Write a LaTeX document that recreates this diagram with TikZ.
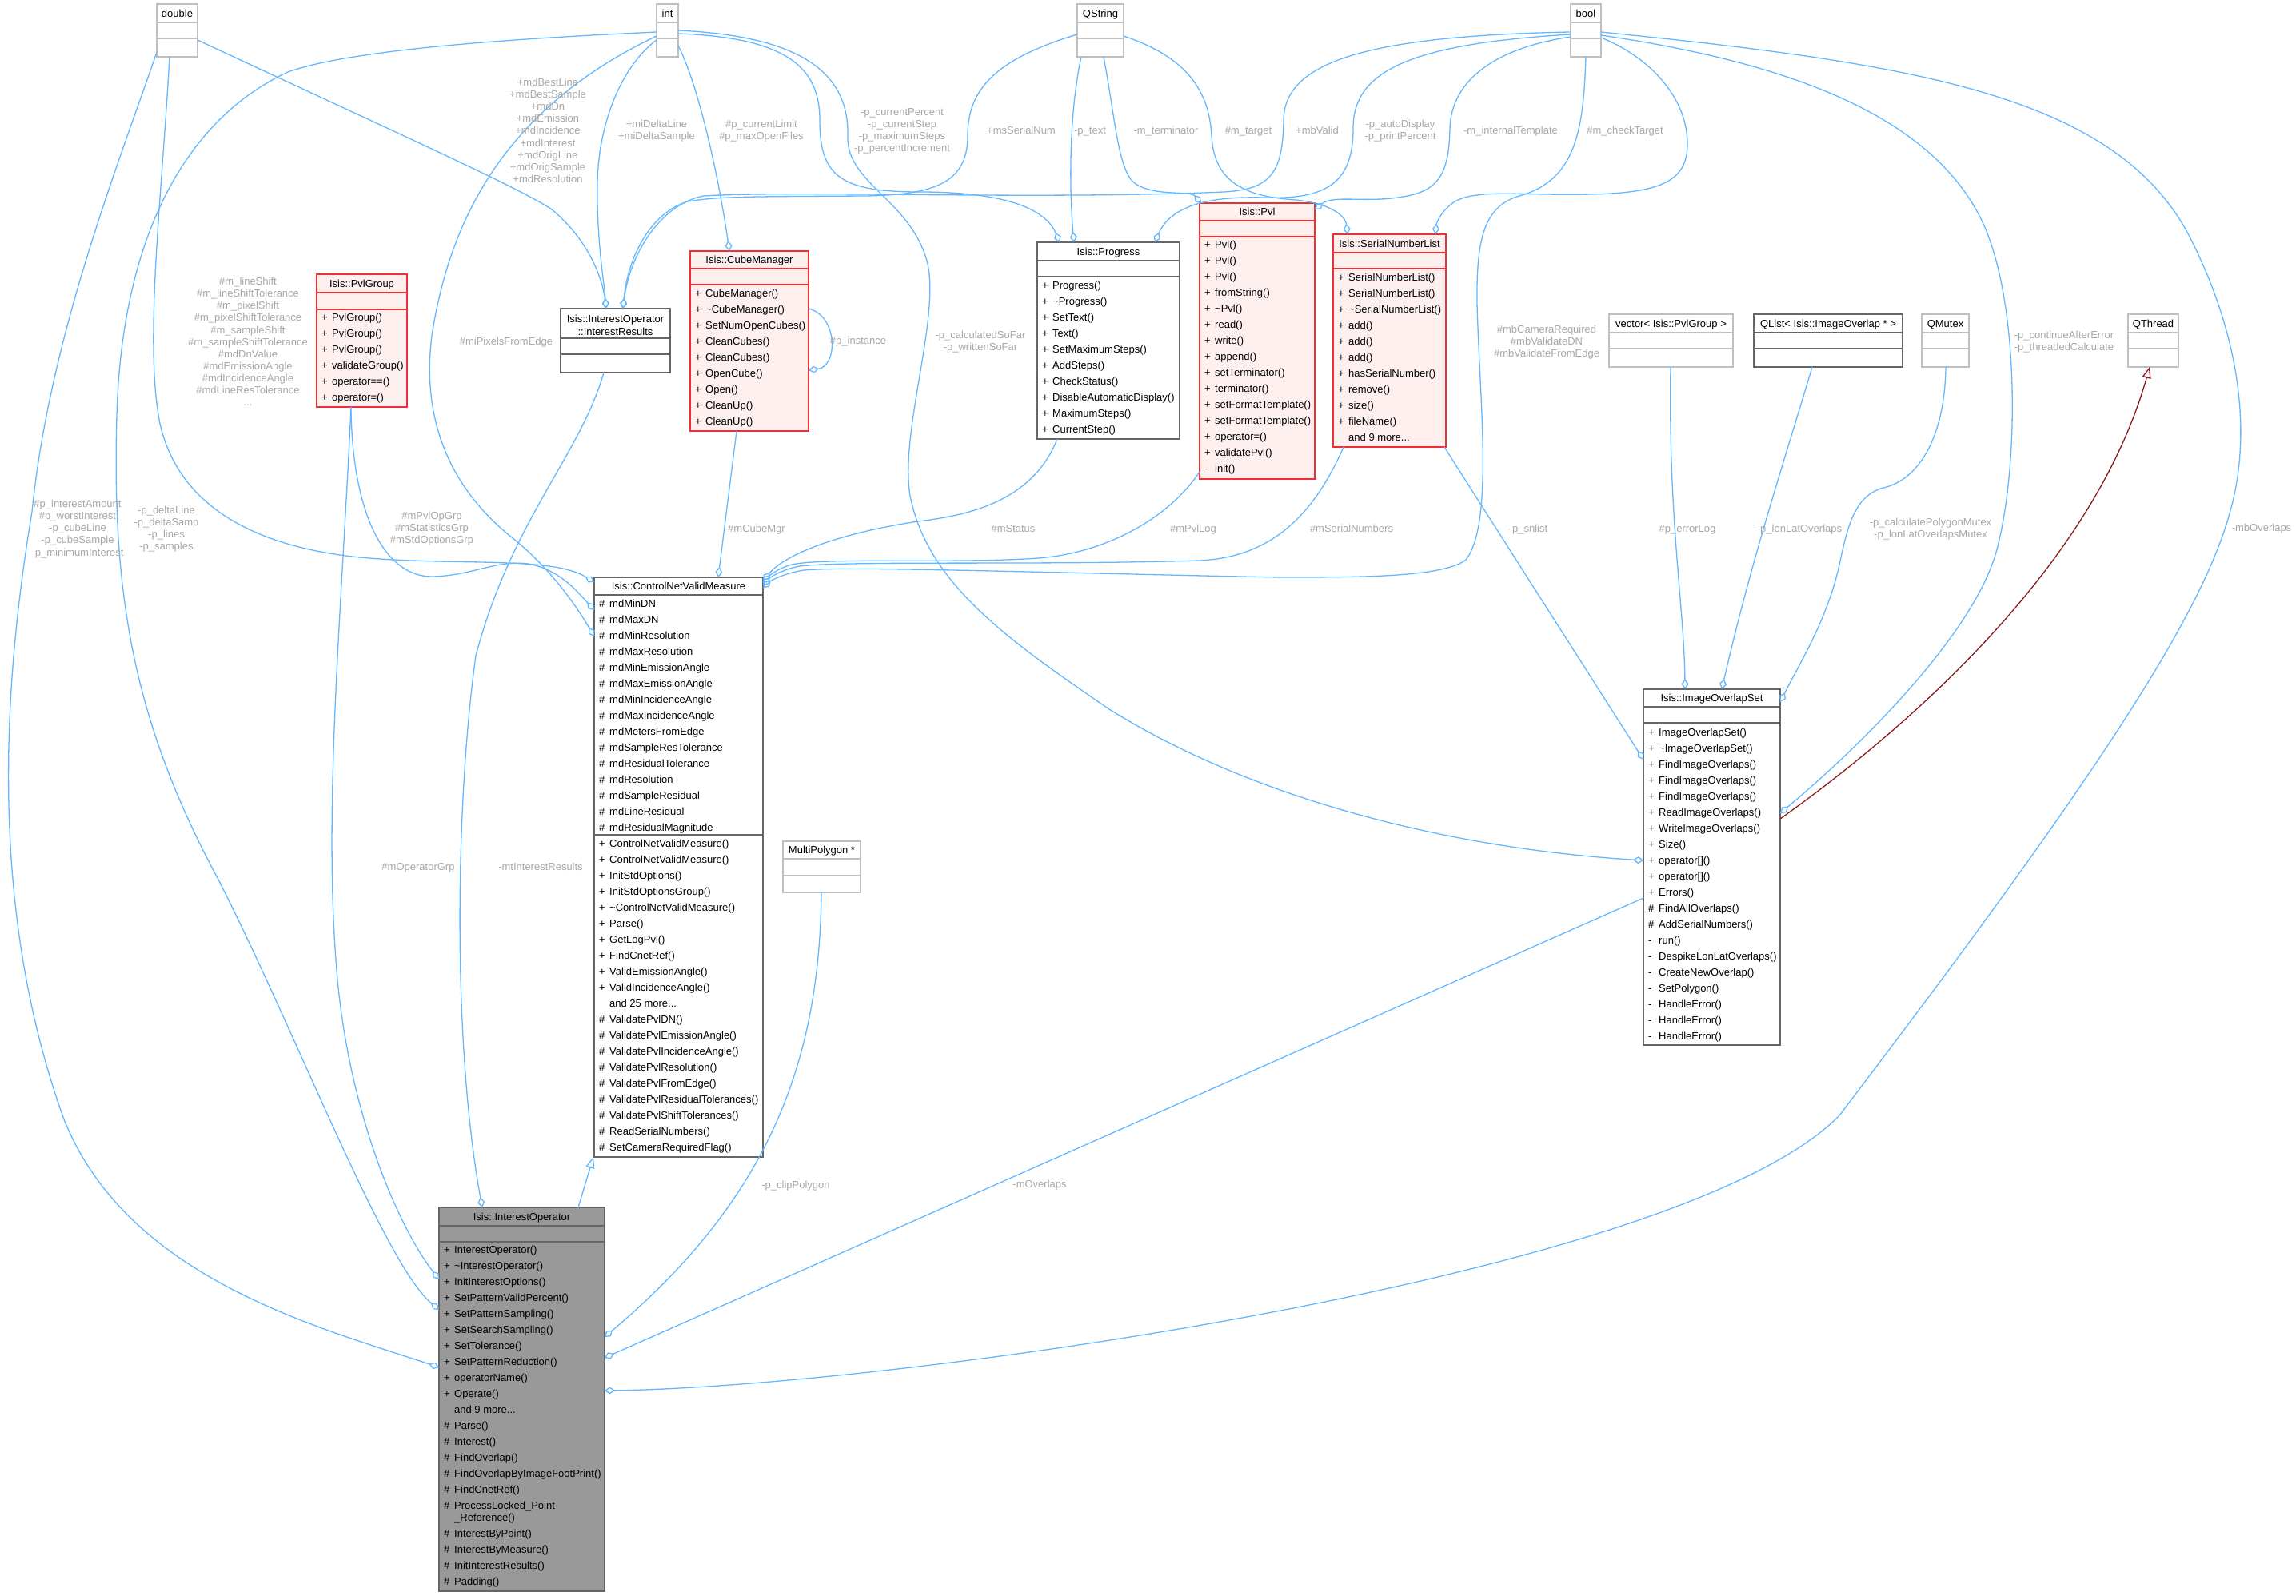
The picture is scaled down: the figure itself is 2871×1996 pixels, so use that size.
\documentclass[tikz,border=0pt]{standalone}
\usepackage{fontspec}
\setmainfont{Liberation Sans}
\usetikzlibrary{arrows.meta}
\definecolor{eblue}{HTML}{63B8FF}
\definecolor{ired}{HTML}{8B1A1A}
\definecolor{lgray}{HTML}{A8A8A8}
\definecolor{gborder}{HTML}{BFBFBF}
\definecolor{dborder}{HTML}{666666}
\definecolor{rborder}{HTML}{F03030}
\definecolor{rfill}{HTML}{FFF0F0}
\definecolor{iofill}{HTML}{999999}
\newcommand\fsz{\fontsize{13}{15.1}\selectfont}
\newcommand\dts{\mbox{...}}
\newcounter{lc}
\tikzset{
 boxbase/.style={inner sep=0pt, outer sep=0pt, line width=1.6pt},
 gbox/.style={boxbase, draw=gborder, fill=white},
 dbox/.style={boxbase, draw=dborder, fill=white},
 rbox/.style={boxbase, draw=rborder, fill=rfill},
 iobox/.style={boxbase, draw=dborder, fill=iofill},
 gdiv/.style={draw=gborder, line width=1.6pt},
 ddiv/.style={draw=dborder, line width=1.6pt},
 rdiv/.style={draw=rborder, line width=1.6pt},
 mtext/.style={inner sep=0pt, font=\fsz},
 ttext/.style={inner sep=0pt, font=\fsz},
 lbl/.style={inner sep=0pt, font=\fsz, text=lgray},
 agg/.style={draw=eblue, line width=1.3pt, -{Diamond[open, length=13pt, width=9pt]}},
 inhb/.style={draw=eblue, line width=1.3pt, -{Triangle[open, length=14pt, width=11pt]}},
 inhr/.style={draw=ired, line width=1.3pt, -{Triangle[open, length=14pt, width=11pt]}},
}
% name, box style, divider style, x0, y0, x1, y1, divider ys
\newcommand\cls[8]{%
  \node[#2, minimum width={#6-#4}, minimum height={#7-#5}, anchor=north west] (#1) at (#4,#5) {};
  \foreach \dv in {#8} {\draw[#3] (#4,\dv) -- (#6,\dv);}}
\newcommand\ttl[4]{\node[ttext, anchor=base] (#1-title) at ({#2},{#3+4.6}) {#4};}
% prefix, x0, first row centre, list sym/text
\newcommand\rows[4]{%
  \foreach \ms/\mt [count=\rr from 0] in {#4} {%
    \node[mtext, anchor=base west] (#1-s\rr) at ({#2+6},{#3+20*\rr+4.6}) {\ms};
    \node[mtext, anchor=base west] (#1-t\rr) at ({#2+19},{#3+20*\rr+4.6}) {\mt};
  }}
\newcommand\lab[3]{%
  \foreach \lnx [count=\jj from 0] in {#3} {%
    \stepcounter{lc}%
    \node[lbl, anchor=base] (lab\arabic{lc}) at ({#1},{#2+15.1*\jj+4.6}) {\lnx};
  }}
\begin{document}
\begin{tikzpicture}[x=1pt,y=-1pt]
\path[use as bounding box, fill=white] (0,0) rectangle (2871,1996);

% ---------------- boxes
\cls{dbl}{gbox}{gdiv}{196}{5}{247}{71}{28,48}
\cls{int}{gbox}{gdiv}{821}{5}{848}{71}{28,48}
\cls{qstr}{gbox}{gdiv}{1347}{5}{1405}{71}{28,48}
\cls{bool}{gbox}{gdiv}{1964}{5}{2002}{71}{28,48}
\cls{vec}{gbox}{gdiv}{2012}{393}{2167}{459}{416,436}
\cls{qlist}{dbox}{ddiv}{2193}{393}{2379}{459}{416,436}
\cls{qmutex}{gbox}{gdiv}{2403}{393}{2462}{459}{416,436}
\cls{qthread}{gbox}{gdiv}{2661}{393}{2724}{459}{416,436}
\cls{mpoly}{gbox}{gdiv}{979}{1052}{1076}{1116}{1074,1095}
\cls{pvlg}{rbox}{rdiv}{396}{343}{509}{509}{366,387}
\cls{ir}{dbox}{ddiv}{701}{386}{838}{466}{423,443}
\cls{cm}{rbox}{rdiv}{863}{314}{1011}{539}{336,356}
\cls{prog}{dbox}{ddiv}{1297}{303}{1475}{549}{326,346}
\cls{pvl}{rbox}{rdiv}{1500}{254}{1644}{599}{276,296}
\cls{snl}{rbox}{rdiv}{1667}{293}{1808}{559}{316,336}
\cls{cnvm}{dbox}{ddiv}{743}{722}{954}{1447}{744,1044}
\cls{io}{iobox}{ddiv}{549}{1510}{756}{1990}{1533,1553}
\cls{ios}{dbox}{ddiv}{2055}{862}{2226}{1307}{884,904}

% ---------------- connectors
% double
\draw[agg] (dbl.west |- 0,65) .. controls (150,200) and (62,420) .. (40,640) .. controls (0,880) and (-10,1150) .. (80,1400) .. controls (160,1600) and (400,1660) .. (io.west |- 0,1710);
\draw[agg] (dbl.south -| 212,0) .. controls (202,250) and (180,430) .. (200,530) .. controls (225,640) and (330,685) .. (450,697) .. controls (570,708) and (690,695) .. (cnvm.west |- 0,728);
\draw[agg] (dbl.east |- 0,50) .. controls (500,168) and (650,235) .. (690,262) .. controls (730,295) and (752,340) .. (ir.north -| 758,0);
% int
\draw[agg] (int.west |- 0,40) .. controls (600,50) and (430,65) .. (360,90) .. controls (230,150) and (152,300) .. (146,520) .. controls (140,740) and (165,900) .. (273,1100) .. controls (370,1290) and (480,1580) .. (io.west |- 0,1638);
\draw[agg] (int.west |- 0,45) .. controls (620,140) and (560,290) .. (540,420) .. controls (525,540) and (575,620) .. (640,672) .. controls (690,712) and (722,760) .. (cnvm.west |- 0,796);
\draw[agg] (int.west |- 0,50) .. controls (780,80) and (748,150) .. (747,230) .. controls (746,300) and (755,350) .. (ir.north -| 758,0);
\draw[agg] (int.east |- 0,57) .. controls (875,110) and (900,230) .. (cm.north -| 912,0);
\draw[agg] (int.east |- 0,42) .. controls (985,47) and (1025,85) .. (1025,150) .. controls (1025,220) and (1050,240) .. (1150,240) .. controls (1240,240) and (1305,255) .. (prog.north -| 1325,0);
\draw[agg] (int.east |- 0,38) .. controls (1000,45) and (1062,90) .. (1060,170) .. controls (1058,230) and (1140,250) .. (1160,330) .. controls (1175,400) and (1125,540) .. (1138,620) .. controls (1160,730) and (1260,800) .. (1387,887) .. controls (1560,995) and (1800,1060) .. (ios.west |- 0,1076);
% QString
\draw[agg] (qstr.west |- 0,43) .. controls (1240,75) and (1210,115) .. (1210,170) .. controls (1210,228) and (1170,244) .. (1080,245) .. controls (950,246) and (900,245) .. (860,252) .. controls (815,265) and (785,320) .. (ir.north -| 779,0);
\draw[agg] (qstr.south -| 1352,0) .. controls (1335,150) and (1338,250) .. (prog.north -| 1343,0);
\draw[agg] (qstr.south -| 1380,0) .. controls (1395,150) and (1398,215) .. (1420,230) .. controls (1445,246) and (1488,238) .. (pvl.north -| 1502,0);
\draw[agg] (qstr.east |- 0,45) .. controls (1480,70) and (1512,110) .. (1515,170) .. controls (1518,230) and (1560,246) .. (1620,250) .. controls (1660,254) and (1682,268) .. (snl.north -| 1685,0);
% bool
\draw[agg] (bool.west |- 0,40) .. controls (1700,45) and (1606,80) .. (1605,150) .. controls (1604,215) and (1590,237) .. (1530,240) .. controls (1300,250) and (1000,238) .. (880,245) .. controls (825,255) and (787,320) .. (ir.north -| 779,0);
\draw[agg] (bool.west |- 0,43) .. controls (1760,55) and (1692,90) .. (1692,160) .. controls (1692,228) and (1660,250) .. (1580,247) .. controls (1500,245) and (1462,262) .. (prog.north -| 1444,0);
\draw[agg] (bool.west |- 0,46) .. controls (1870,60) and (1815,100) .. (1813,160) .. controls (1812,215) and (1800,237) .. (1760,245) .. controls (1710,255) and (1668,243) .. (pvl.east |- 0,262);
\draw[agg] (bool.east |- 0,47) .. controls (2060,70) and (2110,120) .. (2110,180) .. controls (2110,225) and (2080,241) .. (1990,243) .. controls (1900,245) and (1840,235) .. (1815,255) .. controls (1800,267) and (1796,280) .. (snl.north -| 1795,0);
\draw[agg] (bool.south -| 1983,0) .. controls (1980,160) and (1972,225) .. (1900,245) .. controls (1855,258) and (1846,300) .. (1847,380) .. controls (1850,500) and (1868,655) .. (1833,700) .. controls (1805,722) and (1700,722) .. (1600,722) .. controls (1300,716) and (1060,708) .. (1005,713) .. controls (980,717) and (964,726) .. (cnvm.east |- 0,735);
\draw[agg] (bool.east |- 0,44) .. controls (2250,80) and (2420,150) .. (2480,280) .. controls (2525,380) and (2525,580) .. (2497,687) .. controls (2470,790) and (2330,930) .. (ios.east |- 0,1017);
\draw[agg] (bool.east |- 0,40) .. controls (2400,80) and (2650,120) .. (2740,300) .. controls (2810,440) and (2812,560) .. (2788,642) .. controls (2750,780) and (2600,1000) .. (2300,1395) .. controls (2100,1600) and (1100,1735) .. (io.east |- 0,1739);
% members of ControlNetValidMeasure
\draw[agg] (pvlg.south -| 439,0) .. controls (440,640) and (480,722) .. (541,721) .. controls (590,720) and (620,700) .. (660,705) .. controls (700,712) and (722,740) .. (cnvm.west |- 0,763);
\draw[agg] (cm.south -| 921,0) -- (cnvm.north -| 898,0);
\draw[agg] (prog.south -| 1322,0) .. controls (1290,630) and (1205,645) .. (1148,652) .. controls (1060,665) and (985,690) .. (cnvm.east |- 0,726);
\draw[agg] (pvl.west |- 0,590) .. controls (1460,650) and (1380,692) .. (1298,698) .. controls (1200,705) and (1030,697) .. (990,706) .. controls (972,711) and (962,720) .. (cnvm.east |- 0,729);
\draw[agg] (snl.south -| 1680,0) .. controls (1640,650) and (1585,697) .. (1500,701) .. controls (1300,707) and (1060,701) .. (1000,708) .. controls (978,712) and (963,722) .. (cnvm.east |- 0,732);
\draw[agg] (cm.east |- 0,386) .. controls (1048,395) and (1048,458) .. (cm.east |- 0,463);
% members of InterestOperator
\draw[agg] (pvlg.south -| 439,0) .. controls (428,750) and (405,1000) .. (420,1200) .. controls (432,1380) and (495,1530) .. (io.west |- 0,1600);
\draw[agg] (ir.south -| 755,0) .. controls (725,570) and (640,650) .. (595,820) .. controls (570,1000) and (565,1300) .. (io.north -| 603,0);
\draw[inhb] (io.north -| 723,0) -- (cnvm.south -| 742,0);
\draw[agg] (mpoly.south -| 1027,0) .. controls (1025,1330) and (960,1500) .. (io.east |- 0,1672);
\draw[agg] (ios.west |- 0,1123) -- (io.east |- 0,1698);
% members of ImageOverlapSet
\draw[agg] (snl.south -| 1806,0) -- (ios.west |- 0,950);
\draw[agg] (vec.south -| 2089,0) .. controls (2086,650) and (2106,760) .. (ios.north -| 2107,0);
\draw[agg] (qlist.south -| 2266,0) .. controls (2230,580) and (2190,700) .. (ios.north -| 2153,0);
\draw[agg] (qmutex.south -| 2433,0) .. controls (2432,545) and (2400,600) .. (2355,610) .. controls (2318,620) and (2310,660) .. (2300,706) .. controls (2285,775) and (2250,830) .. (ios.east |- 0,878);
\draw[inhr] (ios.east |- 0,1024) .. controls (2400,900) and (2620,700) .. (qthread.south -| 2688,0);

% ---------------- titles
\ttl{dbl}{221.5}{16.5}{double}
\ttl{int}{834.5}{16.5}{int}
\ttl{qstr}{1376}{16.5}{QString}
\ttl{bool}{1983}{16.5}{bool}
\ttl{vec}{2089.5}{404.5}{vector< Isis::PvlGroup >}
\ttl{qlist}{2286}{404.5}{QList< Isis::ImageOverlap * >}
\ttl{qmutex}{2432.5}{404.5}{QMutex}
\ttl{qthread}{2692.5}{404.5}{QThread}
\ttl{mpoly}{1027.5}{1063}{MultiPolygon *}
\ttl{pvlg}{452.5}{354.5}{Isis::PvlGroup}
\node[ttext, anchor=base] (ir-title) at (769.5,403.6) {Isis::InterestOperator};
\node[ttext, anchor=base] (ir-title2) at (769.5,419.6) {::InterestResults};
\ttl{cm}{937}{325}{Isis::CubeManager}
\ttl{prog}{1386}{314.5}{Isis::Progress}
\ttl{pvl}{1572}{265}{Isis::Pvl}
\ttl{snl}{1737.5}{304.5}{Isis::SerialNumberList}
\ttl{cnvm}{848.5}{733}{Isis::ControlNetValidMeasure}
\ttl{io}{652.5}{1521.5}{Isis::InterestOperator}
\ttl{ios}{2140.5}{873}{Isis::ImageOverlapSet}

% ---------------- members
\rows{pvlg}{396}{397}{+/PvlGroup(),+/PvlGroup(),+/PvlGroup(),+/validateGroup(),+/operator==(),+/operator=()}
\rows{cm}{863}{367}{+/CubeManager(),+/\textasciitilde CubeManager(),+/SetNumOpenCubes(),+/CleanCubes(),+/CleanCubes(),+/OpenCube(),+/Open(),+/CleanUp(),+/CleanUp()}
\rows{prog}{1297}{357}{+/Progress(),+/\textasciitilde Progress(),+/SetText(),+/Text(),+/SetMaximumSteps(),+/AddSteps(),+/CheckStatus(),+/DisableAutomaticDisplay(),+/MaximumSteps(),+/CurrentStep()}
\rows{pvl}{1500}{306}{+/Pvl(),+/Pvl(),+/Pvl(),+/fromString(),+/\textasciitilde Pvl(),+/read(),+/write(),+/append(),+/setTerminator(),+/terminator(),+/setFormatTemplate(),+/setFormatTemplate(),+/operator=(),+/validatePvl(),-/init()}
\rows{snl}{1667}{347}{+/SerialNumberList(),+/SerialNumberList(),+/\textasciitilde SerialNumberList(),+/add(),+/add(),+/add(),+/hasSerialNumber(),+/remove(),+/size(),+/fileName(),{}/and 9 more\dts}
\rows{cnvma}{743}{755}{\#/mdMinDN,\#/mdMaxDN,\#/mdMinResolution,\#/mdMaxResolution,\#/mdMinEmissionAngle,\#/mdMaxEmissionAngle,\#/mdMinIncidenceAngle,\#/mdMaxIncidenceAngle,\#/mdMetersFromEdge,\#/mdSampleResTolerance,\#/mdResidualTolerance,\#/mdResolution,\#/mdSampleResidual,\#/mdLineResidual,\#/mdResidualMagnitude}
\rows{cnvmm}{743}{1055}{+/ControlNetValidMeasure(),+/ControlNetValidMeasure(),+/InitStdOptions(),+/InitStdOptionsGroup(),+/\textasciitilde ControlNetValidMeasure(),+/Parse(),+/GetLogPvl(),+/FindCnetRef(),+/ValidEmissionAngle(),+/ValidIncidenceAngle(),{}/and 25 more\dts,\#/ValidatePvlDN(),\#/ValidatePvlEmissionAngle(),\#/ValidatePvlIncidenceAngle(),\#/ValidatePvlResolution(),\#/ValidatePvlFromEdge(),\#/ValidatePvlResidualTolerances(),\#/ValidatePvlShiftTolerances(),\#/ReadSerialNumbers(),\#/SetCameraRequiredFlag()}
\rows{ioa}{549}{1563}{+/InterestOperator(),+/\textasciitilde InterestOperator(),+/InitInterestOptions(),+/SetPatternValidPercent(),+/SetPatternSampling(),+/SetSearchSampling(),+/SetTolerance(),+/SetPatternReduction(),+/operatorName(),+/Operate(),{}/and 9 more\dts,\#/Parse(),\#/Interest(),\#/FindOverlap(),\#/FindOverlapByImageFootPrint(),\#/FindCnetRef(),\#/ProcessLocked\_Point}
\node[mtext, anchor=base west] (io-ref) at (568,1902.6) {\_Reference()};
\rows{iob}{549}{1918}{\#/InterestByPoint(),\#/InterestByMeasure(),\#/InitInterestResults(),\#/Padding()}
\rows{ios}{2055}{916}{+/ImageOverlapSet(),+/\textasciitilde ImageOverlapSet(),+/FindImageOverlaps(),+/FindImageOverlaps(),+/FindImageOverlaps(),+/ReadImageOverlaps(),+/WriteImageOverlaps(),+/Size(),+/operator[](),+/operator[](),+/Errors(),\#/FindAllOverlaps(),\#/AddSerialNumbers(),-/run(),-/DespikeLonLatOverlaps(),-/CreateNewOverlap(),-/SetPolygon(),-/HandleError(),-/HandleError(),-/HandleError()}

% ---------------- connector labels
\lab{97}{630}{\#p\_interestAmount,\#p\_worstInterest,-p\_cubeLine,-p\_cubeSample,-p\_minimumInterest}
\lab{208}{638}{-p\_deltaLine,-p\_deltaSamp,-p\_lines,-p\_samples}
\lab{310}{352}{\#m\_lineShift,\#m\_lineShiftTolerance,\#m\_pixelShift,\#m\_pixelShiftTolerance,\#m\_sampleShift,\#m\_sampleShiftTolerance,\#mdDnValue,\#mdEmissionAngle,\#mdIncidenceAngle,\#mdLineResTolerance,\dts}
\lab{685}{103}{+mdBestLine,+mdBestSample,+mdDn,+mdEmission,+mdIncidence,+mdInterest,+mdOrigLine,+mdOrigSample,+mdResolution}
\lab{821}{155}{+miDeltaLine,+miDeltaSample}
\lab{952}{155}{\#p\_currentLimit,\#p\_maxOpenFiles}
\lab{1128}{140}{-p\_currentPercent,-p\_currentStep,-p\_maximumSteps,-p\_percentIncrement}
\lab{1277}{163}{+msSerialNum}
\lab{1363}{163}{-p\_text}
\lab{1458}{163}{-m\_terminator}
\lab{1561}{163}{\#m\_target}
\lab{1647}{163}{+mbValid}
\lab{1751}{155}{-p\_autoDisplay,-p\_printPercent}
\lab{1889}{163}{-m\_internalTemplate}
\lab{2032}{163}{\#m\_checkTarget}
\lab{633}{427}{\#miPixelsFromEdge}
\lab{1073}{426}{\#p\_instance}
\lab{1226}{419}{-p\_calculatedSoFar,-p\_writtenSoFar}
\lab{1934}{412}{\#mbCameraRequired,\#mbValidateDN,\#mbValidateFromEdge}
\lab{2581}{419}{-p\_continueAfterError,-p\_threadedCalculate}
\lab{540}{645}{\#mPvlOpGrp,\#mStatisticsGrp,\#mStdOptionsGrp}
\lab{946}{661}{\#mCubeMgr}
\lab{1267}{661}{\#mStatus}
\lab{1492}{661}{\#mPvlLog}
\lab{1690}{661}{\#mSerialNumbers}
\lab{1911}{661}{-p\_snlist}
\lab{2110}{661}{\#p\_errorLog}
\lab{2250}{661}{-p\_lonLatOverlaps}
\lab{2414}{653}{-p\_calculatePolygonMutex,-p\_lonLatOverlapsMutex}
\lab{2828}{660}{-mbOverlaps}
\lab{523}{1084}{\#mOperatorGrp}
\lab{676}{1084}{-mtInterestResults}
\lab{995}{1482}{-p\_clipPolygon}
\lab{1300}{1481}{-mOverlaps}
\end{tikzpicture}
\end{document}
